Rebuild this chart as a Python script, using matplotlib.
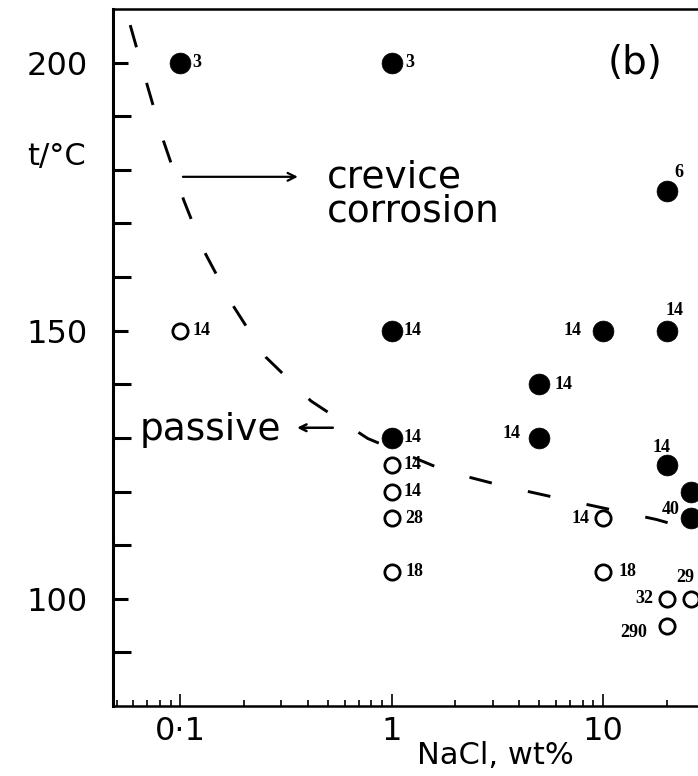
import matplotlib
matplotlib.use("Agg")
import matplotlib.pyplot as plt
from matplotlib.ticker import FixedLocator, LogLocator, NullFormatter

# --- data -------------------------------------------------------------
# test points: NaCl concentration (wt%), temperature (degC), attack (1 = crevice corrosion)
nacl = [0.1, 1, 0.1, 1, 10, 20, 20, 5, 1, 5, 1, 1, 1, 1, 20, 10, 10, 26, 26, 20, 26, 20]
temp = [200, 200, 150, 150, 150, 150, 176, 140, 130, 130, 125, 120, 115, 105,
        125, 115, 105, 120, 115, 100, 100, 95]
attacked = [1, 1, 0, 1, 1, 1, 1, 1, 1, 1, 0, 0, 0, 0, 1, 0, 0, 1, 1, 0, 0, 0]
ref_labels = ["3", "3", "14", "14", "14", "14", "6", "14", "14", "14", "14", "14",
              "28", "18", "14", "14", "18", "", "40", "32", "29", "290"]

# boundary between passive and crevice-corrosion regions
boundary_nacl = [0.058, 0.069, 0.083, 0.104, 0.129, 0.177, 0.255, 0.415, 0.77,
                 1.84, 3.4, 7.5, 17.8, 26.4, 44]
boundary_t = [207, 196.5, 185.6, 174.3, 165, 154.8, 145, 136.9, 129.9,
              123.7, 121, 118, 114.8, 112.9, 111]

y_ticks = list(range(90, 201, 10))
y_ticklabels = {100: "100", 150: "150", 200: "200"}
x_ticks = [0.1, 1, 10]
x_ticklabels = ["0·1", "1", "10"]

# label placement: (dx, dy) in points from the marker centre, horizontal alignment
label_layout = [
    (9, 0, "left"), (10, 0, "left"), (9, 0, "left"), (8.6, 0, "left"),
    (-15.5, 0, "right"), (5.8, 14.4, "center"), (9, 13.7, "center"),
    (10.5, 0, "left"), (8.6, 0, "left"), (-13.5, 2.9, "right"),
    (8.6, 0, "left"), (8.6, 0, "left"), (10, 0, "left"), (10, 0, "left"),
    (-3.6, 12.2, "center"), (-10, 0, "right"), (10.8, 0, "left"),
    (0, 0, "left"), (-8, 6.5, "right"), (-9.4, 0, "right"),
    (-4.3, 15, "center"), (-14.4, -5, "right"),
]

# --- figure -------------------------------------------------------------
W, H = 698, 776
fig = plt.figure(figsize=(W / 100, H / 100), dpi=100)
left_px, right_px, top_px, bottom_px = 113, 740, 9, 706
ax = fig.add_axes([left_px / W, 1 - bottom_px / H,
                   (right_px - left_px) / W, (bottom_px - top_px) / H])
ax.set_xscale("log")
ax.set_xlim(0.0481, 44.4)
ax.set_ylim(80, 210)

# boundary curve
ax.plot(boundary_nacl, boundary_t, color="black", lw=2.1, dashes=(7.9, 12.7),
        solid_capstyle="butt", zorder=2)

# points
for x, t, a in zip(nacl, temp, attacked):
    if a:
        ax.plot(x, t, "o", ms=15, mfc="black", mec="black", mew=0.5, zorder=3)
    else:
        ax.plot(x, t, "o", ms=11, mfc="white", mec="black", mew=2.0, zorder=3)

for x, t, lab, (dx, dy, ha) in zip(nacl, temp, ref_labels, label_layout):
    if not lab:
        continue
    ax.annotate(lab, (x, t), xytext=(dx, dy), textcoords="offset points",
                ha=ha, va="center", fontsize=13, fontweight="bold",
                family="Liberation Serif", color="black", zorder=4)

# region annotations
ax.annotate("", xy=(0.360, 178.7), xytext=(0.103, 178.7),
            arrowprops=dict(arrowstyle="->", lw=1.6, color="black",
                            mutation_scale=14, shrinkA=0, shrinkB=0))
ax.text(0.494, 176.8, "crevice", fontsize=27, ha="left", va="baseline")
ax.text(0.494, 170.3, "corrosion", fontsize=27, ha="left", va="baseline")

ax.annotate("", xy=(0.357, 131.9), xytext=(0.527, 131.9),
            arrowprops=dict(arrowstyle="->", lw=1.8, color="black",
                            mutation_scale=12, shrinkA=0, shrinkB=0))
ax.text(0.0646, 129.6, "passive", fontsize=27, ha="left", va="baseline")

ax.text(14.2, 200, "(b)", fontsize=28, ha="center", va="center")

# --- axes styling ---------------------------------------------------------
ax.spines["right"].set_visible(False)
ax.spines["left"].set_linewidth(2.2)
ax.spines["bottom"].set_linewidth(1.8)
ax.spines["top"].set_linewidth(1.8)

ax.yaxis.set_major_locator(FixedLocator(y_ticks))
ax.set_yticklabels([y_ticklabels.get(v, "") for v in y_ticks])
ax.tick_params(axis="y", which="major", direction="in", length=13, width=2.2,
               pad=18, labelsize=23, right=False)
for v, tk in zip(y_ticks, ax.yaxis.get_major_ticks()):
    if v in y_ticklabels:
        tk.tick1line.set_markersize(15 * 0.72)

ax.xaxis.set_major_locator(FixedLocator(x_ticks))
ax.set_xticklabels(x_ticklabels)
ax.xaxis.set_minor_locator(LogLocator(base=10, subs=range(2, 10)))
ax.xaxis.set_minor_formatter(NullFormatter())
ax.tick_params(axis="x", which="major", direction="in", length=9, width=1.2,
               pad=7, labelsize=23, top=False)
ax.tick_params(axis="x", which="minor", direction="in", length=4.5, width=1.2,
               top=False)

fig.text(56 / W, 1 - 157 / H, "t/°C", fontsize=22, ha="center", va="center")
fig.text(495 / W, 1 - 755 / H, "NaCl, wt%", fontsize=22, ha="center", va="center")

fig.savefig("out.png", dpi=100)
